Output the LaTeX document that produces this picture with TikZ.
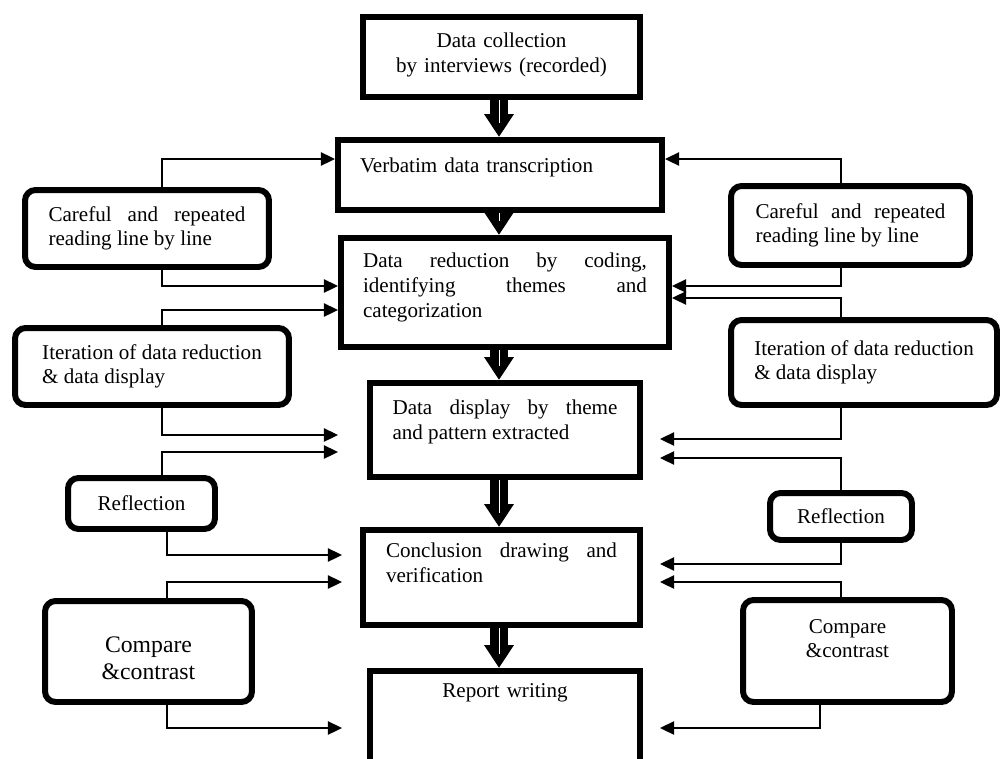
\documentclass[tikz,border=0pt]{standalone}
\usepackage{fontspec}
\setmainfont{Liberation Serif}
\usetikzlibrary{arrows.meta}
\tikzset{
  every node/.style={font=\fontsize{12}{14}\selectfont, text=black},
  stage/.style={draw, line width=3.4pt, inner xsep=0pt, inner ysep=0pt, anchor=north},
  side/.style={draw, line width=3.4pt, rounded corners=6pt, inner sep=0pt, align=center},
  arr/.style={-{Triangle[length=8pt, width=7.5pt]}, line width=0.9pt},
  flow/.style={-{Triangle[length=13pt, width=16pt]}, line width=9.8pt,
    postaction={draw=white, line width=0.4pt, -, shorten >=0.28cm}},
}

\begin{document}
\begin{tikzpicture}[x=0.02cm, y=-0.02cm]
  \useasboundingbox (0,0) rectangle (1000,758);
  \def\xc{499}   % column of the thick arrows
  \def\xl{162}   \def\xr{841}

  % --- central column -------------------------------------------------------
  \node[stage, minimum width=5.54cm, text width=4.6cm, align=center, text height=0.62cm, text depth=0.98cm] (collect) at (501.5,14) {Data collection\\by interviews (recorded)};
  \node[stage, minimum width=6.48cm, text width=5.6cm, align=left, text height=0.66cm, text depth=0.74cm] (verbatim) at (500,137) {Verbatim data transcription};
  \node[stage, minimum width=6.56cm, text width=5.68cm, align=justify, text height=0.6cm, text depth=1.58cm] (reduce) at (505,235) {Data reduction by coding,\linebreak identifying themes and\linebreak categorization};
  \node[stage, minimum width=5.4cm, text width=4.5cm, align=justify, text height=0.64cm, text depth=1.24cm] (display) at (505,380) {Data display by theme\linebreak and pattern extracted};
  \node[stage, minimum width=5.54cm, text width=4.62cm, align=justify, text height=0.56cm, text depth=1.34cm] (conclude) at (501.5,527) {Conclusion drawing and\linebreak verification};
  \node[stage, minimum width=5.4cm, text width=4.6cm, align=center, text height=0.54cm, text depth=2cm] (report) at (505,668) {Report writing};

  \foreach \u/\v in {collect/verbatim, verbatim/reduce, reduce/display, display/conclude, conclude/report} {
    \draw[flow] (\u.south -| \xc,0) -- (\v.north -| \xc,0);
  }

  % --- left side boxes ------------------------------------------------------
  \node[side, minimum width=4.88cm, minimum height=1.54cm, text width=3.94cm, align=justify] (readL) at (147,228.5) {Careful and repeated\linebreak reading line by line};
  \node[side, minimum width=5.48cm, minimum height=1.54cm, align=left] (iterL) at (152,366.5) {Iteration of data reduction\\\& data display};
  \node[side, minimum width=2.94cm, minimum height=1.02cm] (reflL) at (141.5,503.5) {Reflection};
  \node[side, minimum width=4.14cm, minimum height=2.02cm, text width=3.2cm, text height=0.4cm, text depth=0.38cm, font=\fontsize{13.5}{15.5}\selectfont] (compL) at (148.5,651.5) {Compare\\\&contrast};

  % --- right side boxes -----------------------------------------------------
  \node[side, minimum width=4.78cm, minimum height=1.58cm, text width=3.8cm, align=justify] (readR) at (850.5,225.5) {Careful and repeated\linebreak reading line by line};
  \node[side, minimum width=5.32cm, minimum height=1.7cm, align=left] (iterR) at (864,362.5) {Iteration of data reduction\\\& data display};
  \node[side, minimum width=2.84cm, minimum height=0.94cm] (reflR) at (841,516.5) {Reflection};
  \node[side, minimum width=4.18cm, minimum height=2.04cm, text width=3cm, text height=0.35cm, text depth=1.07cm] (compR) at (847.5,651) {Compare\\\&contrast};

  % left feedback arrows
  \draw[arr] (readL.north -| \xl,0) |- (verbatim.west |- 0,159);
  \draw[arr] (readL.south -| \xl,0) |- (reduce.west |- 0,286);
  \draw[arr] (iterL.north -| \xl,0) |- (reduce.west |- 0,310);
  \draw[arr, shorten >=0.58cm] (iterL.south -| \xl,0) |- (display.west |- 0,435);
  \draw[arr, shorten >=0.58cm] (reflL.north -| \xl,0) |- (display.west |- 0,452);
  \draw[arr, shorten >=0.36cm] (reflL.south -| 167,0) |- (conclude.west |- 0,555);
  \draw[arr, shorten >=0.36cm] (compL.north -| 167,0) |- (conclude.west |- 0,582);
  \draw[arr, shorten >=0.5cm] (compL.south -| 167,0) |- (report.west |- 0,728);

  % right feedback arrows
  \draw[arr] (readR.north -| \xr,0) |- (verbatim.east |- 0,159);
  \draw[arr] (readR.south -| \xr,0) |- (reduce.east |- 0,286);
  \draw[arr] (iterR.north -| \xr,0) |- (reduce.east |- 0,298);
  \draw[arr, shorten >=0.34cm] (iterR.south -| \xr,0) |- (display.east |- 0,439);
  \draw[arr, shorten >=0.34cm] (reflR.north -| \xr,0) |- (display.east |- 0,458);
  \draw[arr, shorten >=0.34cm] (reflR.south -| \xr,0) |- (conclude.east |- 0,564);
  \draw[arr, shorten >=0.34cm] (compR.north -| \xr,0) |- (conclude.east |- 0,582);
  \draw[arr, shorten >=0.34cm] (compR.south -| 820,0) |- (report.east |- 0,728);
\end{tikzpicture}
\end{document}
